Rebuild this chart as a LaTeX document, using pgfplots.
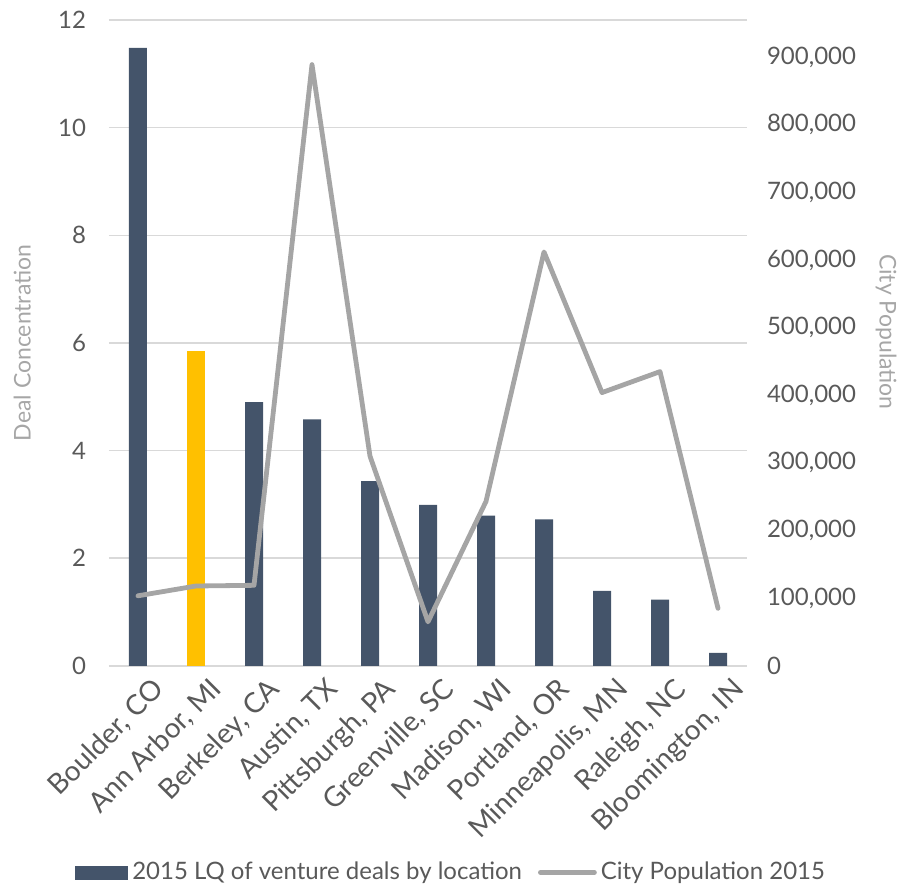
\documentclass[border=0pt]{standalone}
\usepackage{fontspec}
\setmainfont{Lato}
\usepackage{pgfplots}
\pgfplotsset{compat=1.18}
\definecolor{barblue}{HTML}{44546A}
\definecolor{bargold}{HTML}{FFC000}
\definecolor{linegray}{HTML}{A5A5A5}
\definecolor{gridgray}{HTML}{D9D9D9}
\definecolor{ticktext}{HTML}{595959}
\definecolor{titlegray}{HTML}{A6A6A6}
\begin{document}
\begin{tikzpicture}
\pgfplotsset{
  common/.style={
    scale only axis, width=319pt, height=322.9pt,
    xmin=-0.5, xmax=10.5, ymin=0,
    axis line style={draw=none},
    major tick length=0pt,
    tick label style={font=\fontsize{12}{14}\selectfont, color=ticktext},
    /pgf/number format/assume math mode=true,
  }
}
\begin{axis}[common, name=main,
  ymax=12, ytick={0,2,...,12},
  ymajorgrids, grid style={gridgray, line width=0.75pt},
  xtick={0,...,10},
  xticklabels={{Boulder, CO},{Ann Arbor, MI},{Berkeley, CA},{Austin, TX},{Pittsburgh, PA},{Greenville, SC},{Madison, WI},{Portland, OR},{Minneapolis, MN},{Raleigh, NC},{Bloomington, IN}},
  x tick label style={font=\fontsize{14}{16}\selectfont, rotate=45, anchor=north east, inner sep=2pt, yshift=-6pt, xshift=3pt},
  yticklabel style={xshift=-8pt},
  ylabel={Deal Concentration},
  ylabel style={at={(axis description cs:-0.136,0.5)}, anchor=center, font=\fontsize{11.5}{13}\selectfont, color=titlegray},
  ybar, bar width=9pt, bar shift=0pt,
]
\addplot[fill=barblue, draw=none] coordinates {(0,11.48) (2,4.90) (3,4.58) (4,3.43) (5,2.99) (6,2.79) (7,2.72) (8,1.39) (9,1.23) (10,0.24)};
\addplot[fill=bargold, draw=none] coordinates {(1,5.85)};
\end{axis}
\begin{axis}[common,
  ymax=955000, ytick={0,100000,...,900000},
  axis y line*=right, axis x line=none,
  scaled y ticks=false,
  yticklabel style={/pgf/number format/.cd, fixed, 1000 sep={,}, /tikz/.cd, xshift=6.5pt},
  ylabel={City Population},
  ylabel style={at={(axis description cs:1.218,0.517)}, anchor=center, rotate=180, font=\fontsize{11.5}{13}\selectfont, color=titlegray},
  legend style={at={(axis description cs:0.538,-0.32)}, anchor=center, draw=none, fill=none,
    font=\fontsize{12}{14}\selectfont, text=ticktext, legend columns=2,
    /tikz/every even column/.append style={column sep=6pt}},
  legend cell align=left,
]
\addlegendimage{legend image code/.code={\fill[barblue] (0pt,-3.25pt) rectangle (26pt,3.25pt);}}
\addlegendentry{2015 LQ of venture deals by location}
\addplot[linegray, line width=2.4pt, line join=round, line cap=round,
  legend image code/.code={\draw[linegray, line width=2.4pt, line cap=round] (0pt,0pt) -- (27pt,0pt);}]
  coordinates {(0,103500) (1,118000) (2,119000) (3,889000) (4,310000) (5,65000) (6,243000) (7,612000) (8,404000) (9,435000) (10,85000)};
\addlegendentry{City Population 2015}
\end{axis}
\pgfresetboundingbox
\path (main.south west) ++(-54.5pt,-110.15pt);
\path (main.north east) ++(84.5pt,10pt);
\end{tikzpicture}
\end{document}
